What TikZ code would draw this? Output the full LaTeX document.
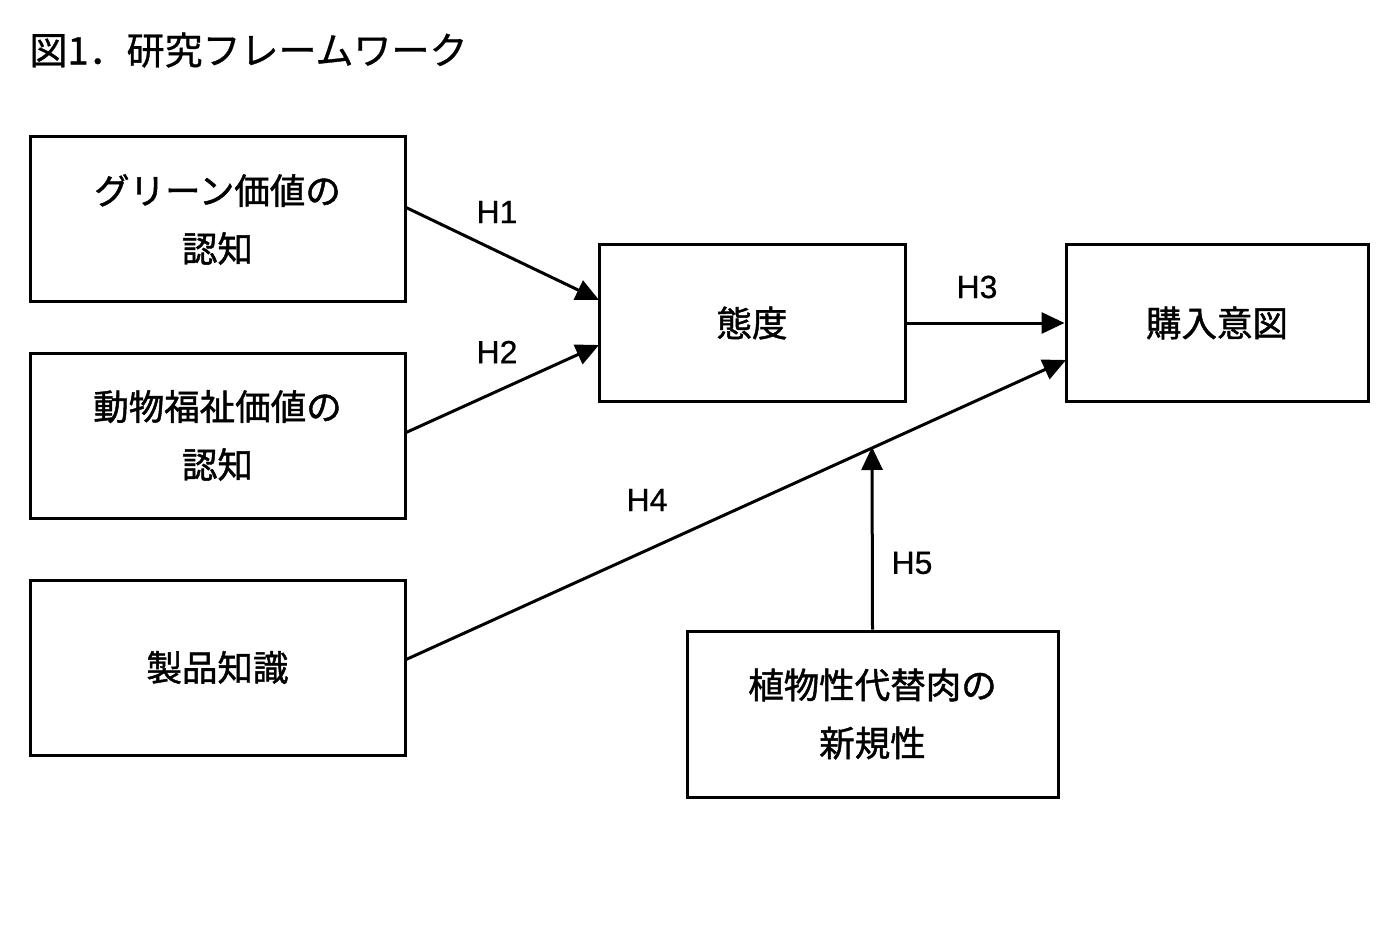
\documentclass[tikz,border=0pt]{standalone}
\usepackage{fontspec}
\setmainfont{Noto Sans CJK JP}
\newfontfamily\boldjp[FakeBold=1.3]{Noto Sans CJK JP}
\newfontfamily\titlejp[FakeBold=0.8]{Noto Sans CJK JP}
\newfontfamily\latinsf[FakeBold=0.6]{Liberation Sans}
\usetikzlibrary{arrows.meta}
\begin{document}
\begin{tikzpicture}[x=1pt,y=-1pt,
  box/.style={draw,line width=3pt,align=center,font=\boldjp\fontsize{35.5}{58}\selectfont,inner sep=0pt},
  conn/.style={line width=3pt,-{Triangle[length=23pt,width=21pt]}},
  hlab/.style={font=\latinsf\fontsize{32}{32}\selectfont}]
\useasboundingbox (0,0) rectangle (1400,933);
\node[anchor=west,font=\titlejp\fontsize{38}{38}\selectfont] (title) at (26,50) {図1．研究フレームワーク};
\node[box,minimum width=375pt,minimum height=165pt] (A) at (217.5,219.5) {グリーン価値の\\認知};
\node[box,minimum width=375pt,minimum height=165pt] (B) at (217.5,435.5) {動物福祉価値の\\認知};
\node[box,minimum width=375pt,minimum height=175pt] (C) at (217.5,667.5) {製品知識};
\node[box,minimum width=306pt,minimum height=156pt] (D) at (752,323) {態度};
\node[box,minimum width=302pt,minimum height=156pt] (E) at (1217,323) {購入意図};
\node[box,minimum width=371pt,minimum height=166pt] (F) at (872.5,714) {植物性代替肉の\\新規性};
\coordinate (a1) at (405,207);
\coordinate (d1) at (599,300);
\coordinate (b1) at (405,433);
\coordinate (d2) at (599,345);
\coordinate (c1) at (405,660);
\coordinate (e1) at (1066,360);
\coordinate (m) at (872,447);
\draw[conn] (a1) -- (d1);
\draw[conn] (b1) -- (d2);
\draw[conn] (D.east) -- (E.west);
\draw[conn] (c1) -- (e1);
\draw[conn] (F.north) -- (m);
\node[hlab] (h1) at (497,212) {H1};
\node[hlab] (h2) at (497,352) {H2};
\node[hlab] (h3) at (977,287) {H3};
\node[hlab] (h4) at (647,500) {H4};
\node[hlab] (h5) at (912,563) {H5};
\end{tikzpicture}
\end{document}
